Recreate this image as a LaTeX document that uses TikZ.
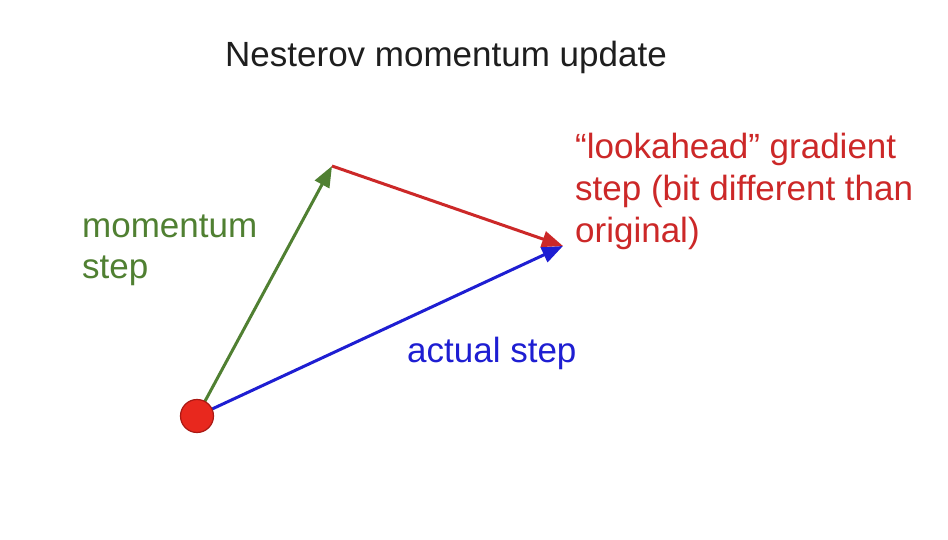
\documentclass[tikz,border=0pt]{standalone}
\usepackage{fontspec}
\setmainfont{Liberation Sans}
\usetikzlibrary{arrows.meta}
\definecolor{ttl}{RGB}{30,30,30}
\definecolor{mgreen}{RGB}{80,128,50}
\definecolor{gred}{RGB}{204,40,40}
\definecolor{ablue}{RGB}{30,30,210}
\definecolor{dotred}{RGB}{232,40,30}
\definecolor{dotedge}{RGB}{170,25,20}
\tikzset{
  lbl/.style={font=\fontsize{35}{42}\selectfont, inner sep=0pt, anchor=base west},
  vec/.style={line width=3pt, -{Triangle[length=21pt,width=16pt]}},
}
\begin{document}
\begin{tikzpicture}[x=1pt,y=-1pt]
\useasboundingbox (0,0) rectangle (948,540);
\fill[white] (0,0) rectangle (948,540);
\node[lbl, text=ttl] (title) at (225,67) {Nesterov momentum update};
\node[lbl, text=mgreen, align=left] (mlab) at (82,279) {momentum\\step};
\node[lbl, text=gred, align=left] (glab) at (575,243) {“lookahead” gradient\\step (bit different than\\original)};
\node[lbl, text=ablue] (alab) at (407,362) {actual step};
\coordinate (start) at (197,416);
\coordinate (mid) at (332,166);
\coordinate (end) at (563,246);
\draw[vec, mgreen] (start) -- (mid);
\draw[vec, ablue] (start) -- (end);
\draw[vec, gred] (mid) -- (end);
\node[circle, fill=dotred, draw=dotedge, line width=1.2pt, minimum size=33pt, inner sep=0pt] (dot) at (start) {};
\end{tikzpicture}
\end{document}
